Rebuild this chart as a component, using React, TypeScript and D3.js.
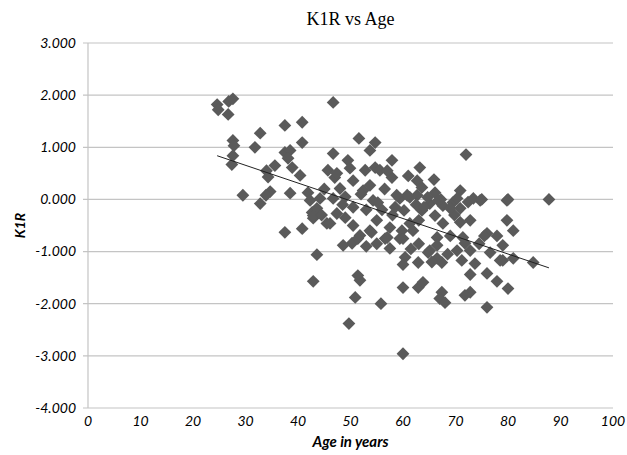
import * as d3 from "d3";
import { useEffect, useRef } from "react";

// age (years) and K1R for each diamond
const ages = [
  24.6, 24.8, 26.8, 27.6, 26.7, 27.6, 27.8, 27.6, 27.4, 29.5,
  32.8, 31.8, 32.8, 34.0, 34.3, 35.6, 34.7, 33.9, 37.5, 40.8,
  40.8, 37.5, 38.5, 38.1, 38.9, 40.4, 38.5, 41.9, 42.3, 42.7,
  42.9, 37.5, 40.8, 45.5, 46.7, 46.7, 45.7, 47.0, 43.6, 42.9,
  51.6, 54.7, 53.7, 49.5, 57.9, 47.4, 49.9, 52.8, 54.7, 55.6,
  57.9, 50.5, 48.0, 52.4, 53.7, 44.2, 46.7, 54.3, 55.2, 50.5,
  59.4, 58.5, 62.7, 47.4, 46.1, 49.0, 43.6, 42.9, 55.0, 53.7,
  57.5, 59.8, 61.3, 51.8, 50.3, 57.0, 59.4, 57.5, 48.6, 60.4,
  72.0, 63.2, 62.7, 63.6, 66.1, 70.9, 74.7, 79.8, 69.5, 61.3,
  65.1, 67.6, 70.9, 63.6, 66.1, 72.8, 70.9, 67.6, 79.8, 81.0,
  76.0, 77.9, 61.9, 66.5, 71.4, 79.0, 70.3, 65.1, 72.8, 87.8,
  76.6, 79.0, 81.0, 84.8, 73.7, 72.8, 76.0, 77.9, 80.0, 72.8,
  71.8, 76.0, 71.8, 51.4, 54.0, 51.8, 51.4, 50.9, 49.7, 55.8,
  60.0, 60.0, 62.9, 63.8, 60.0, 62.9, 56.6, 60.0, 67.4, 64.8,
  66.5, 67.4, 67.0, 68.0, 71.2, 78.5, 66.5, 69.8, 60.8, 62.5,
  64.7, 67.2, 70.3, 60.2, 64.0, 66.7, 69.0, 72.4, 73.4, 58.8,
  65.9, 61.0, 56.5, 56.0, 58.0, 63.0, 69.0, 74.5, 75.5, 68.5,
  65.5, 63.0, 61.5, 55.0, 53.0, 50.5, 52.0, 49.0, 45.0, 44.5,
  48.5, 53.0, 57.0, 75.0, 80.0,
];
const k1r = [
  1.82, 1.72, 1.88, 1.93, 1.63, 1.13, 1.03, 0.84, 0.67, 0.08,
  1.27, 1.00, -0.08, 0.55, 0.43, 0.65, 0.15, 0.08, 1.42, 1.48,
  1.09, 0.90, 0.94, 0.79, 0.61, 0.46, 0.12, 0.13, -0.02, -0.25,
  -0.36, -0.63, -0.56, -0.46, 1.86, 0.88, 0.56, 0.42, -1.06, -1.57,
  1.17, 1.09, 0.94, 0.75, 0.75, 0.50, 0.60, 0.56, 0.61, 0.56,
  0.42, 0.36, 0.21, 0.17, 0.27, 0.02, 0.02, -0.02, -0.06, -0.15,
  0.02, -0.15, 0.08, -0.27, -0.46, -0.35, -0.17, -0.31, -0.40, -0.60,
  -0.54, -0.60, -0.46, -0.69, -0.84, -0.73, -0.75, -0.94, -0.88, -1.11,
  0.86, 0.61, 0.36, 0.23, 0.13, 0.17, -0.02, -0.02, -0.06, 0.04,
  -0.08, -0.12, -0.17, -0.21, -0.31, -0.40, -0.44, -0.46, -0.40, -0.60,
  -0.65, -0.70, -0.60, -0.73, -0.73, -0.88, -0.98, -0.98, -0.98, 0.00,
  -1.02, -1.17, -1.13, -1.21, -1.23, -1.44, -1.42, -1.57, -1.71, -1.78,
  -1.84, -2.07, -0.84, -0.75, -0.63, -1.55, -1.46, -1.88, -2.38, -2.00,
  -2.96, -1.69, -1.69, -1.59, -1.25, -1.21, -0.75, -0.75, -1.21, -1.02,
  -1.13, -1.78, -1.90, -1.98, -1.17, -1.17, -0.88, -0.30, 0.08, -0.10,
  0.04, 0.00, 0.02, -0.21, -0.15, -0.02, -0.17, -0.05, 0.02, 0.08,
  0.38, 0.45, 0.20, -0.20, -0.30, -0.40, -0.70, -0.85, -0.70, -1.05,
  -1.20, -0.85, -0.95, -0.85, -0.90, -0.50, 0.10, 0.05, 0.20, -0.30,
  -0.10, -0.20, 0.55, 0.00, 0.00,
];

const xTicks = [0, 10, 20, 30, 40, 50, 60, 70, 80, 90, 100];
const yTicks = [-4, -3, -2, -1, 0, 1, 2, 3];

const W = 627, H = 455;
const margin = { top: 43, right: 14, bottom: 47, left: 88 };

export default function App() {
  const ref = useRef(null);

  useEffect(() => {
    const svg = d3.select(ref.current);
    svg.selectAll("*").remove();

    const x = d3.scaleLinear().domain([0, 100]).range([margin.left, W - margin.right]);
    const y = d3.scaleLinear().domain([-4, 3]).range([H - margin.bottom, margin.top]);

    const labelFont = "Lato, 'Open Sans', sans-serif";
    const fmt = (d) => d3.format(".3f")(d).replace("\u2212", "-");

    // gridlines
    svg.append("g")
      .selectAll("line")
      .data(yTicks)
      .join("line")
      .attr("x1", x(0) - 5)
      .attr("x2", x(100))
      .attr("y1", (d) => y(d))
      .attr("y2", (d) => y(d))
      .attr("stroke", "#c4c4c4")
      .attr("stroke-width", 1.2);

    svg.append("line")
      .attr("x1", x(0)).attr("x2", x(0))
      .attr("y1", y(3)).attr("y2", y(-4))
      .attr("stroke", "#c4c4c4")
      .attr("stroke-width", 1.2);

    // y tick labels
    svg.append("g")
      .selectAll("text")
      .data(yTicks)
      .join("text")
      .attr("x", x(0) - 12)
      .attr("y", (d) => y(d))
      .attr("dy", "0.35em")
      .attr("text-anchor", "end")
      .attr("font-family", labelFont)
      .attr("font-style", "italic")
      .attr("font-size", 14)
      .text(fmt);

    // x tick labels
    svg.append("g")
      .selectAll("text")
      .data(xTicks)
      .join("text")
      .attr("x", (d) => x(d))
      .attr("y", y(-4) + 18)
      .attr("text-anchor", "middle")
      .attr("font-family", labelFont)
      .attr("font-style", "italic")
      .attr("font-size", 14)
      .text((d) => d);

    // points
    const pts = ages.map((a, i) => ({ a, v: k1r[i] }));
    const diamond = d3.symbol(d3.symbolSquare, 82);
    svg.append("g")
      .selectAll("path")
      .data(pts)
      .join("path")
      .attr("d", diamond)
      .attr("transform", (d) => `translate(${x(d.a)},${y(d.v)}) rotate(45)`)
      .attr("fill", "#5a5a5a");

    // linear trendline
    const ma = d3.mean(ages), mv = d3.mean(k1r);
    const slope = d3.sum(pts, (d) => (d.a - ma) * (d.v - mv)) / d3.sum(pts, (d) => (d.a - ma) ** 2);
    const icpt = mv - slope * ma;
    const [a0, a1] = d3.extent(ages);
    svg.append("line")
      .attr("x1", x(a0)).attr("y1", y(icpt + slope * a0))
      .attr("x2", x(a1)).attr("y2", y(icpt + slope * a1))
      .attr("stroke", "#222")
      .attr("stroke-width", 1);

    // titles
    svg.append("text")
      .attr("x", (x(0) + x(100)) / 2)
      .attr("y", 25)
      .attr("text-anchor", "middle")
      .attr("font-family", "'Liberation Serif', 'Times New Roman', serif")
      .attr("font-size", 18)
      .text("K1R vs Age");

    svg.append("text")
      .attr("x", (x(0) + x(100)) / 2)
      .attr("y", 447)
      .attr("text-anchor", "middle")
      .attr("font-family", labelFont)
      .attr("font-style", "italic")
      .attr("font-weight", "bold")
      .attr("font-size", 15)
      .text("Age in years");

    svg.append("text")
      .attr("transform", `translate(25,${(y(3) + y(-4)) / 2}) rotate(-90)`)
      .attr("text-anchor", "middle")
      .attr("font-family", labelFont)
      .attr("font-style", "italic")
      .attr("font-weight", "bold")
      .attr("font-size", 14)
      .text("K1R");
  }, []);

  return (
    <svg
      ref={ref}
      width={W}
      height={H}
      style={{ position: "absolute", left: 0, top: 0, background: "#fff" }}
    />
  );
}
